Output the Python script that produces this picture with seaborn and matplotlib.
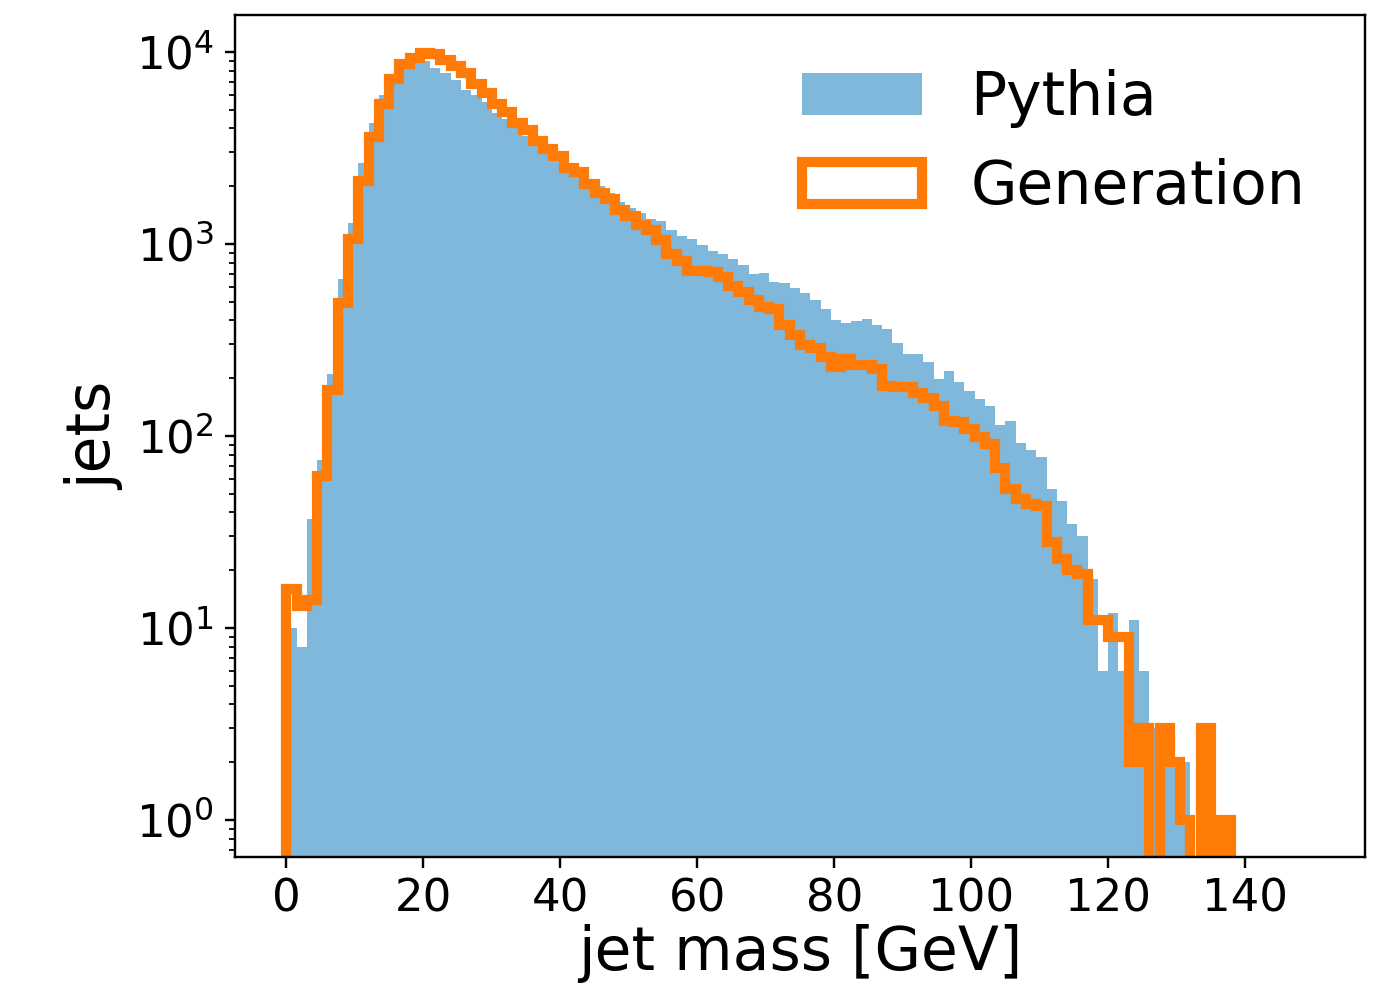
import numpy as np
import pandas as pd
import matplotlib
matplotlib.use("Agg")
import matplotlib.pyplot as plt
from matplotlib.patches import Patch
import seaborn as sns

# ---- data (counts per 1.5 GeV bin, 0 .. 150 GeV) ----
bin_width = 1.5
n_bins = 100
pythia_counts = [
    10, 8, 37, 75, 210, 655, 1290, 2650, 4280, 5970,
    6800, 8110, 8820, 8990, 8280, 7760, 7150, 6340, 5970, 5500,
    4790, 4450, 4000, 3650, 3340, 3090, 2850, 2580, 2330, 2050,
    2000, 1850, 1650, 1530, 1450, 1343, 1318, 1183, 1100, 1057,
    988, 920, 884, 832, 777, 698, 709, 637, 624, 588,
    557, 510, 457, 402, 386, 396, 405, 379, 361, 304,
    266, 266, 244, 197, 219, 192, 172, 155, 144, 114,
    119, 92, 85, 78, 53, 46, 35, 30, 18, 6,
    12, 6, 11, 6, 3, 2, 2, 2, 0, 0,
    0, 0, 0, 0, 0, 0, 0, 0, 0, 0,
]
generation_counts = [
    16, 13, 14, 62, 174, 495, 1060, 2140, 3600, 5330,
    7230, 8610, 9330, 9820, 9760, 9030, 8450, 7740, 6790, 6090,
    5340, 4890, 4280, 3920, 3440, 3110, 2880, 2500, 2380, 2040,
    1840, 1710, 1500, 1390, 1260, 1180, 1050, 884, 815, 723,
    723, 711, 675, 606, 564, 510, 471, 458, 378, 336,
    298, 288, 259, 230, 251, 235, 234, 223, 182, 181,
    179, 167, 157, 144, 119, 118, 109, 99, 91, 68,
    53, 47, 44, 43, 28, 23, 20, 19, 11, 11,
    9, 9, 2, 3, 0, 3, 2, 1, 0, 3,
    0, 1, 0, 0, 0, 0, 0, 0, 0, 0,
]
series_labels = ["Pythia", "Generation"]
x_ticks = [0, 20, 40, 60, 80, 100, 120, 140]
x_label = "jet mass [GeV]"
y_label = "jets"

pythia_color = "#7fb8da"
gen_color = "#ff7b08"

centers = (np.arange(n_bins) + 0.5) * bin_width
# one empty padding bin on the left so the step outline rises from the floor at 0
edges = (np.arange(-1, n_bins + 1) * bin_width).tolist()

df = pd.DataFrame({
    "mass": centers,
    "Pythia": pythia_counts,
    "Generation": generation_counts,
})

W, H, DPI = 1384, 987, 216
fig = plt.figure(figsize=(W / DPI, H / DPI), dpi=DPI)
ax = fig.add_axes([235 / W, (H - 857) / H, (1365 - 235) / W, (857 - 15) / H])

sns.histplot(data=df, x="mass", weights="Pythia", bins=edges, element="bars",
             fill=True, color=pythia_color, alpha=1.0, linewidth=0, ax=ax)
sns.histplot(data=df, x="mass", weights="Generation", bins=edges, element="step",
             fill=False, color=gen_color, linewidth=3.4, solid_joinstyle="miter",
             ax=ax)

ax.set_yscale("log")
ax.set_xlim(-7.5, 157.5)
ax.set_ylim(0.642, 15570)
ax.set_xticks(x_ticks)
ax.tick_params(axis="both", which="major", labelsize=15)
ax.set_xlabel(x_label, fontsize=20, labelpad=1)
ax.set_ylabel(y_label, fontsize=20)

handles = [
    Patch(facecolor=pythia_color, edgecolor="none", label=series_labels[0]),
    Patch(facecolor="none", edgecolor=gen_color, linewidth=3.4, label=series_labels[1]),
]
ax.legend(handles=handles, fontsize=20, frameon=False, loc="upper right",
          bbox_to_anchor=(0.995, 1.0))

fig.savefig("out.png", dpi=DPI)
